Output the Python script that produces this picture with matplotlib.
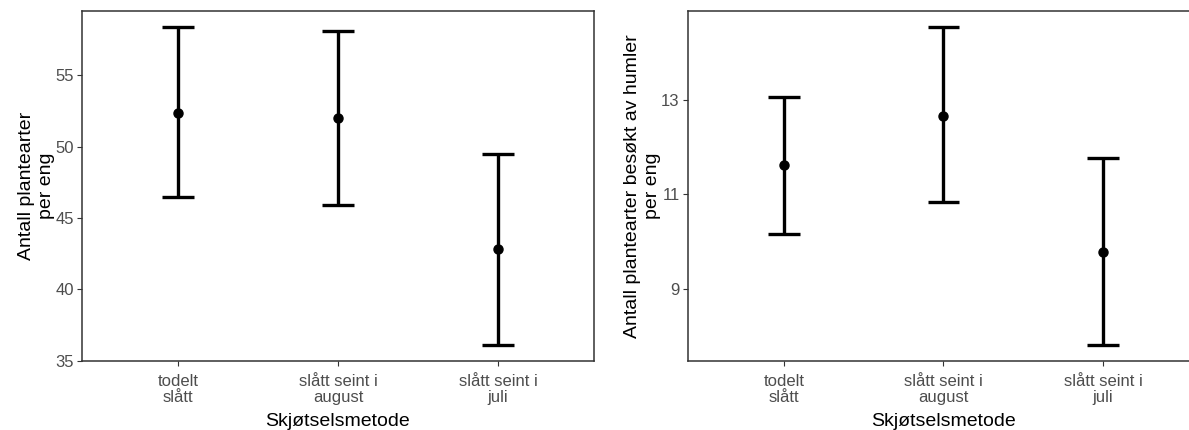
import matplotlib
matplotlib.use('Agg')
import matplotlib.pyplot as plt

plt.rcParams['font.family'] = ['Liberation Sans', 'DejaVu Sans']

categories = ['todelt\nslått', 'slått seint i\naugust', 'slått seint i\njuli']

# left panel: plant species per meadow
mean_left = [52.4, 52.05, 42.8]
low_left = [46.5, 45.9, 36.1]
high_left = [58.4, 58.1, 49.5]
ticks_left = [35, 40, 45, 50, 55]

# right panel: plant species visited by bumblebees
mean_right = [11.62, 12.66, 9.77]
low_right = [10.17, 10.83, 7.81]
high_right = [13.06, 14.54, 11.76]
ticks_right = [9, 11, 13]

W, H = 1189, 430
fig = plt.figure(figsize=(W / 100, H / 100), dpi=100, facecolor='white')

def panel(rect, mean, low, high, yticks, ylabel):
    ax = fig.add_axes(rect)
    x = list(range(1, len(categories) + 1))
    for xi, m, lo, hi in zip(x, mean, low, high):
        ax.plot([xi, xi], [lo, hi], color='black', lw=2.4, solid_capstyle='butt', zorder=2)
        ax.plot([xi - 0.1, xi + 0.1], [lo, lo], color='black', lw=2.4, solid_capstyle='butt', zorder=2)
        ax.plot([xi - 0.1, xi + 0.1], [hi, hi], color='black', lw=2.4, solid_capstyle='butt', zorder=2)
    ax.plot(x, mean, 'o', color='black', markersize=6.5, zorder=3)
    ymin, ymax = min(low), max(high)
    pad = (ymax - ymin) * 0.05
    ax.set_ylim(ymin - pad, ymax + pad)
    ax.set_xlim(0.4, 3.6)
    ax.set_xticks(x)
    ax.set_xticklabels(categories, fontsize=12, color='#4D4D4D', linespacing=1.05)
    ax.set_yticks(yticks)
    ax.set_yticklabels([str(t) for t in yticks], fontsize=12, color='#4D4D4D')
    ax.tick_params(axis='x', length=3.5, width=0.8, color='#333333', pad=6)
    ax.tick_params(axis='y', length=3.5, width=0.8, color='#333333', pad=2.5)
    for s in ax.spines.values():
        s.set_color('#333333')
        s.set_linewidth(1.1)
    ax.set_xlabel('Skjøtselsmetode', fontsize=14, labelpad=6)
    ax.set_ylabel(ylabel, fontsize=14, labelpad=0, linespacing=1.25)
    return ax

panel([82 / W, (H - 361) / H, 512 / W, 350 / H], mean_left, low_left, high_left,
      ticks_left, 'Antall plantearter\nper eng')
panel([688 / W, (H - 361) / H, 511 / W, 350 / H], mean_right, low_right, high_right,
      ticks_right, 'Antall plantearter besøkt av humler\nper eng')

fig.savefig('out.png', dpi=100)
